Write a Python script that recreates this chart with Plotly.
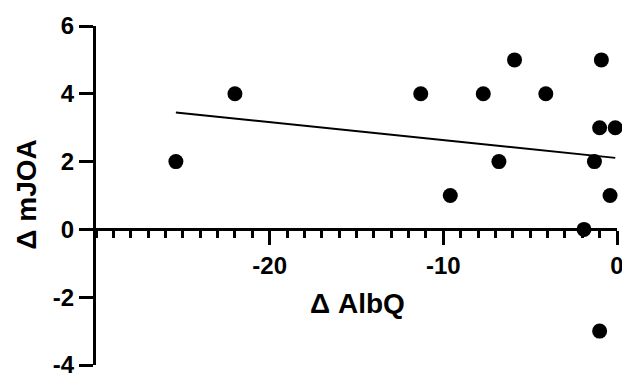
import plotly.graph_objects as go

# Data
albq = [-25.4, -22.0, -11.3, -9.6, -7.7, -6.8, -5.9, -4.1, -1.9, -1.3, -1.0, -0.9, -0.1, -0.4, -1.0]
mjoa = [2, 4, 4, 1, 4, 2, 5, 4, 0, 2, 3, 5, 3, 1, -3]

fit_x = [-25.4, -0.1]
fit_y = [3.45, 2.11]

x_ticks = [-20, -10, 0]
y_ticks = [-4, -2, 0, 2, 4, 6]

FONT = "Liberation Sans, Arial, Helvetica, sans-serif"

fig = go.Figure()
fig.add_trace(go.Scatter(x=fit_x, y=fit_y, mode="lines",
                         line=dict(color="black", width=2), cliponaxis=False,
                         showlegend=False, hoverinfo="skip"))
fig.add_trace(go.Scatter(x=albq, y=mjoa, mode="markers",
                         marker=dict(color="black", size=15, line=dict(width=0)),
                         cliponaxis=False, showlegend=False))

# The reference is cropped at the right and bottom edges; the figure is a bit
# larger than the window so the cropped labels are still drawn.
fig.update_layout(
    width=640, height=390,
    margin=dict(l=96, r=23, t=20, b=20),
    paper_bgcolor="white", plot_bgcolor="white",
    font=dict(family=FONT, color="black"),
    xaxis=dict(
        range=[-30, 0], anchor="free", position=0.4,
        showline=True, linewidth=3, linecolor="black",
        showgrid=False, zeroline=False,
        tickmode="array", tickvals=x_ticks, ticktext=[str(v) for v in x_ticks],
        ticks="outside", ticklen=14, tickwidth=3, tickcolor="black",
        tickfont=dict(family=FONT, size=24, color="black", weight="bold"),
        minor=dict(dtick=1, tick0=0, ticks="outside", ticklen=7, tickwidth=2.5,
                   tickcolor="black", showgrid=False),
    ),
    yaxis=dict(
        range=[-4, 6], domain=[0, 1],
        showline=True, linewidth=3, linecolor="black",
        showgrid=False, zeroline=False,
        tickmode="array", tickvals=y_ticks, ticktext=[str(v) for v in y_ticks],
        ticks="outside", ticklen=14, tickwidth=3, tickcolor="black",
        tickfont=dict(family=FONT, size=24, color="black", weight="bold"),
    ),
    annotations=[
        dict(text="Δ AlbQ", xref="paper", yref="paper", x=0.501, y=0.18,
             showarrow=False, xanchor="center", yanchor="middle",
             font=dict(family=FONT, size=28, color="black", weight="bold")),
        dict(text="Δ mJOA", xref="paper", yref="paper", x=-0.134, y=0.503,
             textangle=-90, showarrow=False, xanchor="center", yanchor="middle",
             font=dict(family=FONT, size=28, color="black", weight="bold")),
    ],
)

fig.write_html(
    "out.html",
    config={"displayModeBar": False},
    post_script="document.body.style.margin='0';document.body.style.overflow='hidden';",
)
